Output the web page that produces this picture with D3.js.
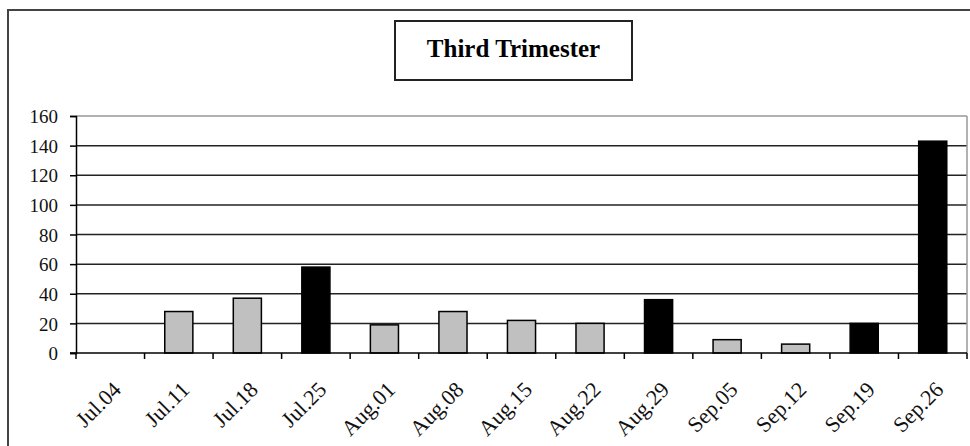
<!DOCTYPE html>
<html>
<head>
<meta charset="utf-8">
<script src="https://cdn.jsdelivr.net/npm/d3@7"></script>
<style>
	body { margin: 0; background: #fff; }
	svg { display: block; }
	.tick text { font-family: "Liberation Serif", "Times New Roman", serif; }
</style>
</head>
<body>
<div id="chart"></div>
<script>
var weeks = ["Jul.04", "Jul.11", "Jul.18", "Jul.25", "Aug.01", "Aug.08", "Aug.15",
	"Aug.22", "Aug.29", "Sep.05", "Sep.12", "Sep.19", "Sep.26"];
var counts = [0, 28, 37, 58, 19, 28, 22, 20, 36, 9, 6, 20, 143];
var darkWeeks = ["Jul.25", "Aug.29", "Sep.19", "Sep.26"];
var yTicks = [0, 20, 40, 60, 80, 100, 120, 140, 160];
var title = "Third Trimester";

var width = 970,
	height = 446;

var margin = {left: 76, right: 3, top: 116, bottom: 93};

var svg = d3.select("#chart")
	.append("svg")
		.attr("width", width)
		.attr("height", height);

// outer chart frame
svg.append("rect")
	.attr("x", 8)
	.attr("y", 10)
	.attr("width", 1000)
	.attr("height", 500)
	.attr("fill", "none")
	.attr("stroke", "#444")
	.attr("stroke-width", 2);

// title box
svg.append("rect")
	.attr("x", 395)
	.attr("y", 21)
	.attr("width", 237)
	.attr("height", 59)
	.attr("fill", "#fff")
	.attr("stroke", "#222")
	.attr("stroke-width", 2);

svg.append("text")
	.attr("x", 513.5)
	.attr("y", 57)
	.attr("text-anchor", "middle")
	.attr("font-family", "Liberation Serif, Times New Roman, serif")
	.attr("font-weight", "bold")
	.attr("font-size", 25)
	.text(title);

var x0 = margin.left,
	x1 = width - margin.right,
	y0 = height - margin.bottom,
	y1 = margin.top;

var slot = d3.scaleBand()
	.domain(weeks)
	.range([x0, x1])
	.padding(0);

var barWidth = slot.step() * 0.41;

var y = d3.scaleLinear()
	.domain([0, 160])
	.range([y0, y1]);

// gridlines
svg.append("g")
	.selectAll("line")
	.data(yTicks.filter(function(d) { return d > 0; }))
	.enter().append("line")
		.attr("x1", x0)
		.attr("x2", x1)
		.attr("y1", function(d) { return y(d); })
		.attr("y2", function(d) { return y(d); })
		.attr("stroke", function(d) { return d === 160 ? "#999" : "#222"; })
		.attr("stroke-width", 1.5);

// right border of plot area
svg.append("line")
	.attr("x1", x1).attr("x2", x1)
	.attr("y1", y1).attr("y2", y0)
	.attr("stroke", "#999")
	.attr("stroke-width", 1.5);

// bars
svg.append("g")
	.selectAll("rect")
	.data(weeks)
	.enter().append("rect")
		.attr("x", function(d) { return slot(d) + (slot.step() - barWidth) / 2; })
		.attr("y", function(d, i) { return y(counts[i]); })
		.attr("width", barWidth)
		.attr("height", function(d, i) { return y0 - y(counts[i]); })
		.attr("fill", function(d) { return darkWeeks.indexOf(d) >= 0 ? "#000" : "#c0c0c0"; })
		.attr("stroke", "#000")
		.attr("stroke-width", 1.5)
		.attr("display", function(d, i) { return counts[i] > 0 ? null : "none"; });

// y axis
var yAxis = svg.append("g")
	.attr("transform", "translate(" + x0 + ",0)")
	.call(d3.axisLeft(y).tickValues(yTicks).tickSize(6).tickPadding(12));

yAxis.select(".domain").attr("stroke", "#000").attr("stroke-width", 1.5);
yAxis.selectAll(".tick line").attr("stroke", "#000").attr("stroke-width", 1.5);
yAxis.selectAll(".tick text")
	.attr("font-size", 19)
	.attr("fill", "#111")
	.attr("dy", "0.35em");

// x axis line and ticks between categories
svg.append("line")
	.attr("x1", x0 - 6).attr("x2", x1)
	.attr("y1", y0).attr("y2", y0)
	.attr("stroke", "#000")
	.attr("stroke-width", 1.5);

svg.append("g")
	.selectAll("line")
	.data(weeks.concat(["end"]))
	.enter().append("line")
		.attr("x1", function(d, i) { return i < weeks.length ? slot(d) : x1; })
		.attr("x2", function(d, i) { return i < weeks.length ? slot(d) : x1; })
		.attr("y1", y0)
		.attr("y2", y0 + 6)
		.attr("stroke", "#000")
		.attr("stroke-width", 1.5);

// rotated category labels
svg.append("g")
	.selectAll("text")
	.data(weeks)
	.enter().append("text")
		.attr("transform", function(d) {
			var cx = slot(d) + slot.step() / 2;
			return "translate(" + (cx + 12) + "," + (y0 + 38) + ") rotate(-45)";
		})
		.attr("text-anchor", "end")
		.attr("font-family", "Liberation Serif, Times New Roman, serif")
		.attr("font-size", 22)
		.attr("fill", "#111")
		.text(function(d) { return d; });
</script>
</body>
</html>
